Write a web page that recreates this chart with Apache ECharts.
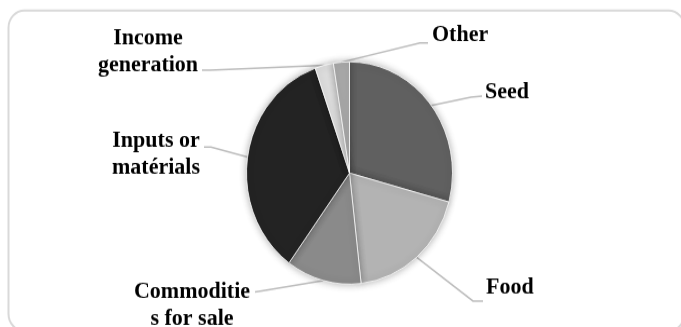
<!DOCTYPE html>
<html>
<head>
<meta charset="utf-8">
<script src="https://cdn.jsdelivr.net/npm/echarts@6/dist/echarts.min.js"></script>
<style>
  html, body { margin: 0; padding: 0; background: #fff; width: 681px; height: 327px; }
  #frame { position: relative; width: 681px; height: 327px; overflow: hidden; background: #fff; }
  /* the figure is drawn a little squat and stretched to full height, giving the oval pie */
  #chart { position: absolute; left: 0; top: 0; width: 681px; height: 303px; transform: scaleY(1.0792); transform-origin: 0 0; }
</style>
</head>
<body>
<div id="frame"><div id="chart"></div></div>
<script>
// Uses of the support, share of responses (%), clockwise from 12 o'clock
const categories = ['Seed', 'Food', 'Commoditie\ns for sale', 'Inputs or\nmatérials', 'Income\ngeneration', 'Other'];
const shares = [29.2, 19.0, 11.8, 34.6, 2.9, 2.5];
const sliceColors = ['#606060', '#b3b3b3', '#8a8a8a', '#232323', '#dcdcdc', '#a8a8a8'];

// Where each label sits and how its leader line bends (unstretched coordinates)
const labelSpots = [
  { x: 485, y: 85.2,  align: 'left',   bend: [[471, 89.9], [482, 89]] },
  { x: 486, y: 265.9, align: 'left',   bend: [[473, 278.9], [483, 278.9]] },
  { x: 192, y: 282.6, align: 'center', bend: [[262, 269.6], [255, 270.6]] },
  { x: 156, y: 142.7, align: 'center', bend: [[211, 136.2], [204, 136.2]] },
  { x: 148, y: 48.2,  align: 'center', bend: [[210, 64.9], [202, 64.9]] },
  { x: 432, y: 32.4,  align: 'left',   bend: [[420, 39.8], [428, 39.8]] }
];

const chart = echarts.init(document.getElementById('chart'), null, { renderer: 'canvas' });

chart.setOption({
  backgroundColor: '#ffffff',
  animation: false,
  graphic: [{
    type: 'rect',
    shape: { x: 8.5, y: 9.7, width: 676, height: 297, r: 16 },
    style: { fill: 'none', stroke: '#d9d9d9', lineWidth: 2 },
    silent: true
  }],
  series: [{
    type: 'pie',
    center: [349.5, 160.3],
    radius: 103,
    startAngle: 90,
    clockwise: true,
    avoidLabelOverlap: false,
    data: categories.map((name, i) => ({
      name: name,
      value: shares[i],
      itemStyle: { color: sliceColors[i] }
    })),
    itemStyle: {
      borderColor: '#ffffff',
      borderWidth: 0.8,
      shadowBlur: 7,
      shadowColor: 'rgba(0,0,0,0.3)'
    },
    label: {
      show: true,
      formatter: '{b}',
      color: '#000',
      fontFamily: '"Liberation Serif", "Times New Roman", serif',
      fontWeight: 'bold',
      fontSize: 22,
      lineHeight: 25
    },
    labelLine: {
      show: true,
      length: 20,
      length2: 10,
      lineStyle: { color: '#bdbdbd', width: 1.5 }
    },
    labelLayout: function (params) {
      const spot = labelSpots[params.dataIndex];
      const start = params.labelLinePoints ? params.labelLinePoints[0] : spot.bend[0];
      return {
        x: spot.x,
        y: spot.y,
        align: spot.align,
        verticalAlign: 'middle',
        labelLinePoints: [start, spot.bend[0], spot.bend[1]]
      };
    }
  }]
});
</script>
</body>
</html>
